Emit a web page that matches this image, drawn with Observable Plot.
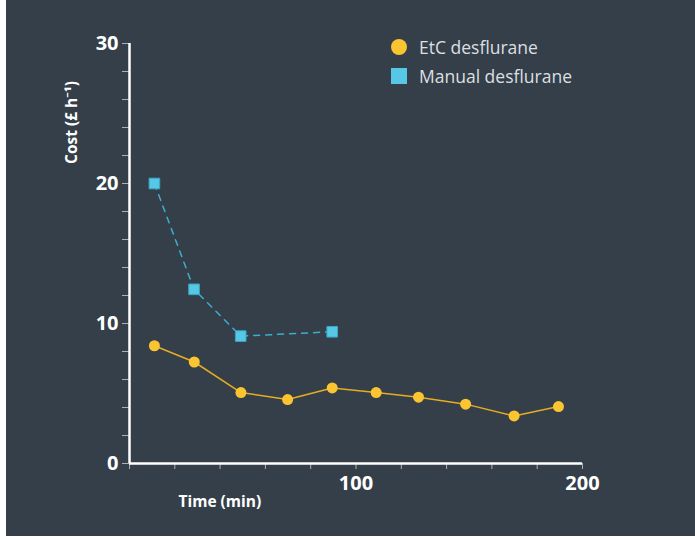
<!DOCTYPE html>
<html>
<head>
<meta charset="utf-8">
<script src="https://cdn.jsdelivr.net/npm/d3@7"></script>
<script src="https://cdn.jsdelivr.net/npm/@observablehq/plot@0.6"></script>
<style>
  html, body { margin: 0; padding: 0; background: #ffffff; }
  #wrap { position: absolute; left: 6px; top: 0; width: 689px; height: 536px; background: #343f49; overflow: hidden; }
  #chart { position: absolute; left: -6px; top: 0; }
  .legend { position: absolute; left: 385px; top: 32px; font-family: "Open Sans", "Noto Sans", sans-serif; font-size: 17.5px; color: #dcdfe2; }
  .legend div { display: flex; align-items: center; height: 29px; }
  .sw { width: 16px; height: 16px; margin-right: 12px; display: inline-block; }
</style>
</head>
<body>
<div id="wrap">
  <div id="chart"></div>
  <div class="legend">
    <div><span class="sw" style="background:#fbc531;border-radius:50%"></span>EtC desflurane</div>
    <div><span class="sw" style="background:#56c8e6"></span>Manual desflurane</div>
  </div>
</div>
<script>
// Data
const etcTime = [11, 28.6, 49.2, 69.8, 89.5, 108.9, 127.6, 148.4, 169.8, 189.4];
const etcCost = [8.41, 7.25, 5.07, 4.57, 5.40, 5.07, 4.74, 4.24, 3.40, 4.07];
const manTime = [11, 28.5, 49.1, 89.5];
const manCost = [20.0, 12.44, 9.1, 9.41];
const yTicks = [0, 2, 4, 6, 8, 10, 12, 14, 16, 18, 20, 22, 24, 26, 28, 30];
const yLabels = [0, 10, 20, 30];
const xTicks = [0, 20, 40, 60, 80, 100, 120, 140, 160, 180, 200];
const xLabels = [100, 200];

const etc = etcTime.map((t, i) => ({time: t, cost: etcCost[i]}));
const man = manTime.map((t, i) => ({time: t, cost: manCost[i]}));

const font = "'Open Sans', 'Noto Sans', sans-serif";
const chart = Plot.plot({
  width: 695,
  height: 537,
  marginLeft: 129,
  marginRight: 113,
  marginTop: 43,
  marginBottom: 74,
  style: {background: "#343f49", color: "#ffffff", fontFamily: font},
  x: {domain: [0, 200]},
  y: {domain: [0, 30]},
  marks: [
    Plot.axisY(yTicks, {tickSize: 7, tickFormat: () => "", stroke: "#aab0b6", label: null}),
    Plot.axisY(yLabels, {tickSize: 0, tickPadding: 11, fontSize: 20, fontWeight: "bold", fill: "#ffffff", label: null}),
    Plot.axisX(xTicks, {tickSize: 6, tickFormat: () => "", stroke: "#aab0b6", label: null}),
    Plot.axisX(xLabels, {tickSize: 0, tickPadding: 12, fontSize: 20, fontWeight: "bold", fill: "#ffffff", label: null}),
    Plot.ruleX([0], {stroke: "#ffffff", strokeWidth: 2.5}),
    Plot.ruleY([0], {stroke: "#ffffff", strokeWidth: 2.5, x1: 0, x2: 200}),
    Plot.text(["Cost (£ h⁻¹)"], {frameAnchor: "left", textAnchor: "middle", lineAnchor: "middle", dx: -57, dy: -131, rotate: -90, fontSize: 15.5, fontWeight: "bold", fill: "#ffffff"}),
    Plot.text(["Time (min)"], {frameAnchor: "bottom-left", textAnchor: "start", lineAnchor: "middle", dx: 49, dy: 39, fontSize: 15.5, fontWeight: "bold", fill: "#ffffff"}),
    Plot.line(etc, {x: "time", y: "cost", stroke: "#e6ac22", strokeWidth: 1.5}),
    Plot.line(man, {x: "time", y: "cost", stroke: "#3daed0", strokeWidth: 1.5, strokeDasharray: "6,6"}),
    Plot.dot(etc, {x: "time", y: "cost", r: 5.5, fill: "#fbc531", stroke: "none"}),
    Plot.dot(man, {x: "time", y: "cost", symbol: "square", r: 6, fill: "#56c8e6", stroke: "#3aa5c6", strokeWidth: 1})
  ]
});
document.getElementById("chart").appendChild(chart);
</script>
</body>
</html>
